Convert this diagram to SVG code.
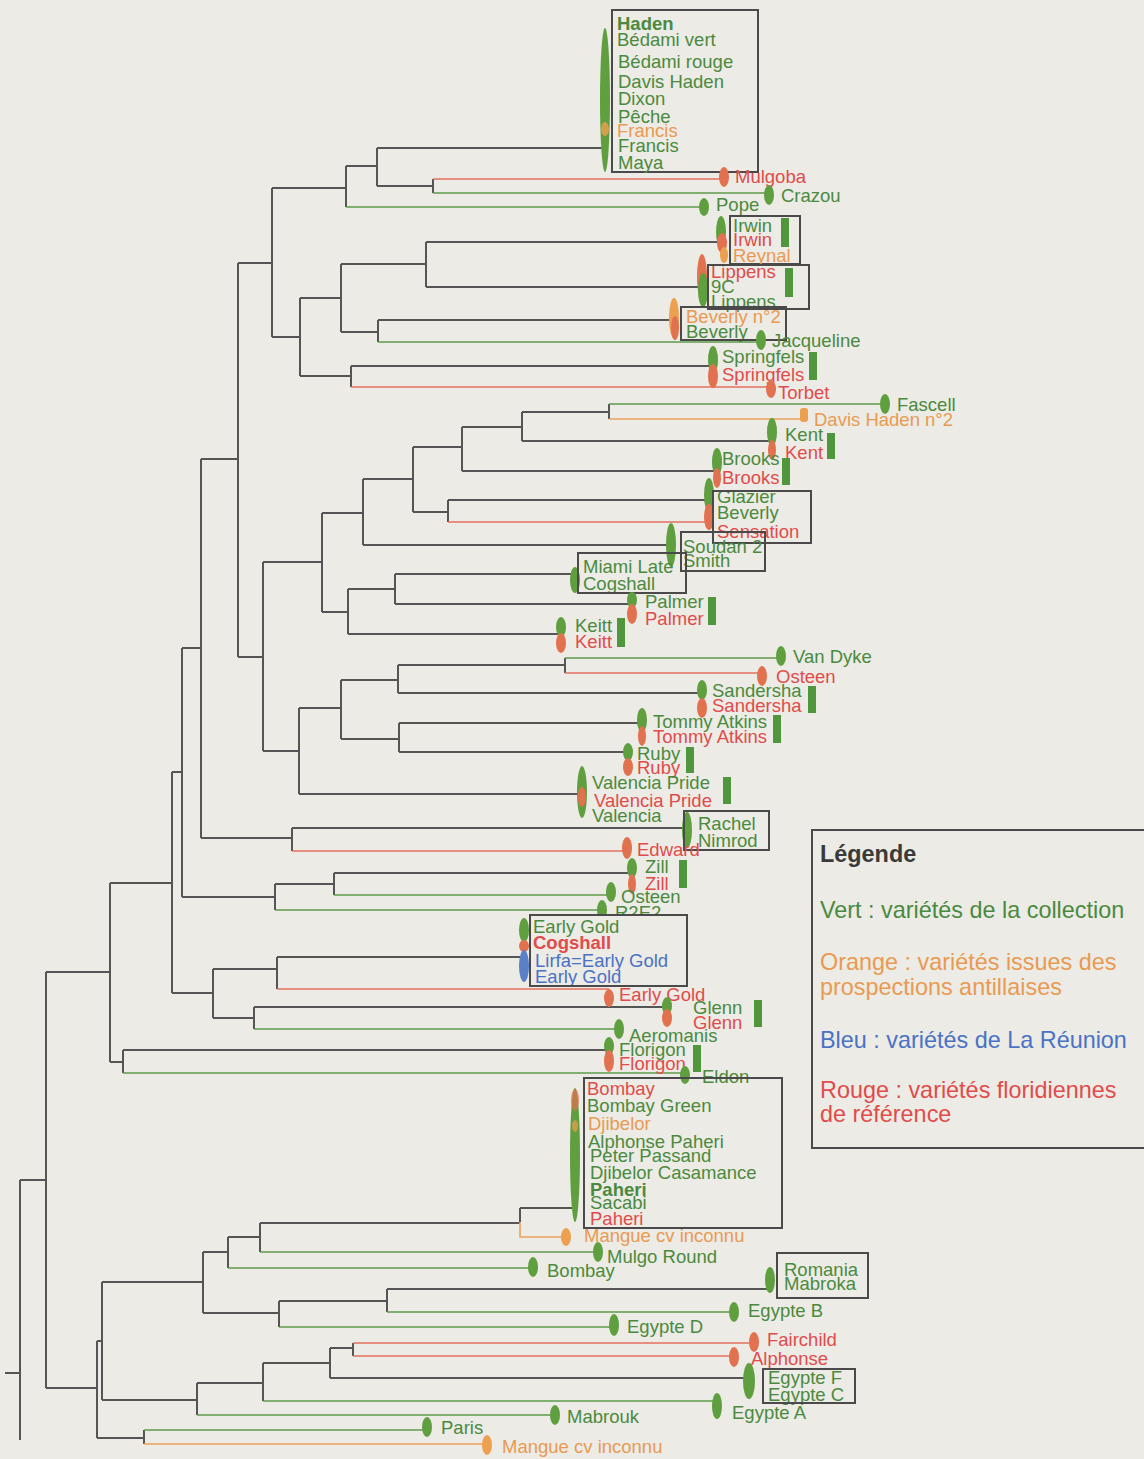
<svg xmlns="http://www.w3.org/2000/svg" width="1144" height="1459" viewBox="0 0 1144 1459">
<style>
.d{stroke:#555;stroke-width:2;fill:none}
.lg{stroke:#5e9c4c;stroke-width:1.6;fill:none}
.lr{stroke:#e3715f;stroke-width:1.6;fill:none}
.lo{stroke:#eba25a;stroke-width:1.6;fill:none}
text{font-family:"Liberation Sans",Arial,sans-serif;font-size:18.5px}
.tg{fill:#4b8a3e}.tr{fill:#e14b4b}.to{fill:#e99a52}.tb{fill:#4a72c4}
.b{font-weight:bold}
.eg{fill:#5f9f40}.er{fill:#e2714f}.eo{fill:#eca050}.eb{fill:#5a80c8}
.bar{fill:#4f963c}
.box{fill:none;stroke:#4a4a4a;stroke-width:2}
.leg{font-size:23.4px}
</style>
<rect width="1144" height="1459" fill="#ecebe5"/>
<g id="connectors">
<path class="d" d="M272 188V337M272 188H346M272 337H300M346 166V207M346 166H377M377 148V186M377 148H605M377 186H433M433 179V193M300 298V376M300 298H341M300 376H351M341 264V332M341 264H426M341 332H378M426 242V287M426 242H727M426 287H707M378 320V342M378 320H677M351 366V387M351 366H713M238 263V657M238 263H272M238 657H263M263 562V751M263 562H322M263 751H299M322 513V612M322 513H363M322 612H348M363 479V545M363 479H413M363 545H671M413 447V512M413 447H462M413 512H448M462 427V471M462 427H522M462 471H717M522 412V441M522 412H609M522 441H772M448 500V522M448 500H714M348 589V634M348 589H395M348 634H561M395 574V604M395 574H575M395 604H632M299 708V794M299 708H341M299 794H582M341 680V739M341 680H398M341 739H399M398 665V693M398 665H565M398 693H702M565 658V673M399 723V752M399 723H642M399 752H628M201 459V838M201 459H238M201 838H292M292 828V851M292 828H687M182 648V897M182 648H201M182 897H275M275 884V910M275 884H334M334 873V895M334 873H632M172 772V993M172 772H182M172 993H213M213 969V1018M213 969H277M213 1018H254M277 957V989M277 957H524M254 1007V1029M254 1007H667M110 883V1062M110 883H172M110 1062H123M123 1050V1073M123 1050H609M46 972V1388M46 972H110M46 1388H97M20 1180V1440M20 1180H46M5 1373H20M97 1341V1438M97 1341H102M97 1438H144M102 1282V1400M102 1282H203M102 1400H197M203 1252V1313M203 1252H228M203 1313H279M228 1237V1268M228 1237H260M260 1223V1252M260 1223H520M520 1208V1222M520 1208H575M279 1301V1327M279 1301H387M387 1289V1312M387 1289H770M197 1383V1415M197 1383H263M263 1363V1401M263 1363H330M330 1348V1378M330 1348H353M330 1378H749M353 1343V1356M144 1430V1444M609 404V419"/>
<path class="lg" d="M346 207H704M433 193H769M378 342H761M609 404H885M565 658H781M275 910H602M334 895H611M254 1029H619M123 1073H685M260 1252H598M228 1268H533M279 1327H614M387 1312H734M197 1415H555M263 1401H717M144 1430H427"/>
<path class="lr" d="M433 179H724M351 387H771M448 522H709M565 673H762M292 851H628M277 989H609M353 1343H754M353 1356H734"/>
<path class="lo" d="M609 419H804M520 1222V1237H566M144 1444H487"/>
</g>
<g id="haden">
<ellipse class="eg" cx="605" cy="100" rx="5" ry="72"/>
<ellipse class="eo" cx="605" cy="129" rx="4" ry="7" opacity="0.8"/>
<rect class="box" x="612" y="10" width="146" height="162"/>
<text class="tg b" x="617" y="30">Haden</text>
<text class="tg" x="617" y="46">Bédami vert</text>
<text class="tg" x="618" y="68">Bédami rouge</text>
<text class="tg" x="618" y="88">Davis Haden</text>
<text class="tg" x="618" y="105">Dixon</text>
<text class="tg" x="618" y="123">Pêche</text>
<text class="to" x="617" y="137">Francis</text>
<text class="tg" x="618" y="152">Francis</text>
<text class="tg" x="618" y="169">Maya</text>
</g>
<g id="mulgoba"><ellipse class="er" cx="724" cy="177" rx="5" ry="10"/><text class="tr" x="735" y="183">Mulgoba</text></g>
<g id="crazou"><ellipse class="eg" cx="769" cy="195" rx="5" ry="10"/><text class="tg" x="781" y="202">Crazou</text></g>
<g id="pope"><ellipse class="eg" cx="704" cy="207" rx="5" ry="9"/><text class="tg" x="716" y="211">Pope</text></g>
<g id="irwin">
<ellipse class="eg" cx="721" cy="232" rx="5" ry="16"/><ellipse class="er" cx="722" cy="243" rx="5" ry="10"/><ellipse class="eo" cx="724" cy="255" rx="4" ry="8"/>
<rect class="box" x="730" y="216" width="70" height="48"/><rect class="bar" x="781" y="218" width="8" height="29"/>
<text class="tg" x="733" y="232">Irwin</text><text class="tr" x="733" y="246">Irwin</text><text class="to" x="733" y="262">Reynal</text>
</g>
<g id="lippens">
<ellipse class="er" cx="702" cy="277" rx="5" ry="23"/><ellipse class="eg" cx="703" cy="290" rx="5" ry="17"/>
<text class="tr" x="711" y="278">Lippens</text><text class="tg" x="711" y="293">9C</text><text class="tg" x="711" y="308">Lippens</text>
<rect class="box" x="708" y="265" width="101" height="44"/><rect class="bar" x="785" y="268" width="8" height="29"/>
</g>
<g id="beverly">
<ellipse class="eo" cx="674" cy="318" rx="5" ry="20"/><ellipse class="er" cx="675" cy="328" rx="4" ry="12"/>
<text class="to" x="686" y="323">Beverly n°2</text><text class="tg" x="686" y="338">Beverly</text>
<rect class="box" x="681" y="307" width="105" height="33"/>
</g>
<g id="jacqueline"><ellipse class="eg" cx="761" cy="340" rx="5" ry="10"/><text class="tg" x="772" y="347">Jacqueline</text></g>
<g id="springfels">
<ellipse class="eg" cx="713" cy="360" rx="5" ry="14"/><ellipse class="er" cx="713" cy="376" rx="5" ry="12"/>
<text class="tg" x="722" y="363">Springfels</text><text class="tr" x="722" y="381">Springfels</text>
<rect class="bar" x="809" y="352" width="8" height="28"/>
</g>
<g id="torbet"><ellipse class="er" cx="771" cy="389" rx="5" ry="9"/><text class="tr" x="778" y="399">Torbet</text></g>
<g id="fascell"><ellipse class="eg" cx="885" cy="404" rx="5" ry="10"/><text class="tg" x="897" y="411">Fascell</text></g>
<g id="davishaden2"><rect class="eo" x="800" y="408" width="8" height="14" rx="3"/><text class="to" x="814" y="426">Davis Haden n°2</text></g>
<g id="kent">
<ellipse class="eg" cx="772" cy="432" rx="5" ry="14"/><ellipse class="er" cx="772" cy="450" rx="4" ry="10"/>
<text class="tg" x="785" y="441">Kent</text><text class="tr" x="785" y="459">Kent</text>
<rect class="bar" x="827" y="433" width="8" height="26"/>
</g>
<g id="brooks">
<ellipse class="eg" cx="717" cy="462" rx="5" ry="14"/><ellipse class="er" cx="717" cy="478" rx="4" ry="10"/>
<text class="tg" x="722" y="465">Brooks</text><text class="tr" x="722" y="484">Brooks</text>
<rect class="bar" x="782" y="458" width="8" height="27"/>
</g>
<g id="glazier">
<ellipse class="eg" cx="709" cy="495" rx="5" ry="17"/><ellipse class="er" cx="709" cy="517" rx="5" ry="13"/>
<text class="tg" x="717" y="503">Glazier</text><text class="tg" x="717" y="519">Beverly</text><text class="tr" x="717" y="538">Sensation</text>
<rect class="box" x="713" y="491" width="98" height="52"/>
</g>
<g id="soudan">
<ellipse class="eg" cx="671" cy="545" rx="5" ry="22"/>
<text class="tg" x="683" y="553">Soudan 2</text><text class="tg" x="683" y="567">Smith</text>
<rect class="box" x="681" y="532" width="84" height="39"/>
</g>
<g id="miamilate">
<ellipse class="eg" cx="575" cy="580" rx="5" ry="13"/>
<text class="tg" x="583" y="573">Miami Late</text><text class="tg" x="583" y="590">Cogshall</text>
<rect class="box" x="578" y="553" width="108" height="40"/>
</g>
<g id="palmer">
<ellipse class="eg" cx="632" cy="600" rx="5" ry="8"/><ellipse class="er" cx="632" cy="614" rx="5" ry="10"/>
<text class="tg" x="645" y="608">Palmer</text><text class="tr" x="645" y="625">Palmer</text>
<rect class="bar" x="708" y="597" width="8" height="28"/>
</g>
<g id="keitt">
<ellipse class="eg" cx="561" cy="627" rx="5" ry="10"/><ellipse class="er" cx="561" cy="643" rx="5" ry="10"/>
<text class="tg" x="575" y="632">Keitt</text><text class="tr" x="575" y="648">Keitt</text>
<rect class="bar" x="617" y="618" width="8" height="29"/>
</g>
<g id="vandyke"><ellipse class="eg" cx="781" cy="656" rx="5" ry="10"/><text class="tg" x="793" y="663">Van Dyke</text></g>
<g id="osteen-r"><ellipse class="er" cx="762" cy="676" rx="5" ry="10"/><text class="tr" x="776" y="683">Osteen</text></g>
<g id="sandersha">
<ellipse class="eg" cx="702" cy="690" rx="5" ry="10"/><ellipse class="er" cx="702" cy="708" rx="5" ry="10"/>
<text class="tg" x="712" y="697">Sandersha</text><text class="tr" x="712" y="712">Sandersha</text>
<rect class="bar" x="808" y="686" width="8" height="27"/>
</g>
<g id="tommy">
<ellipse class="eg" cx="642" cy="720" rx="5" ry="12"/><ellipse class="er" cx="642" cy="736" rx="4" ry="10"/>
<text class="tg" x="653" y="728">Tommy Atkins</text><text class="tr" x="653" y="743">Tommy Atkins</text>
<rect class="bar" x="773" y="715" width="8" height="28"/>
</g>
<g id="ruby">
<ellipse class="eg" cx="628" cy="752" rx="5" ry="9"/><ellipse class="er" cx="628" cy="767" rx="5" ry="9"/>
<text class="tg" x="637" y="760">Ruby</text><text class="tr" x="637" y="774">Ruby</text>
<rect class="bar" x="686" y="747" width="8" height="26"/>
</g>
<g id="valencia">
<ellipse class="eg" cx="582" cy="792" rx="5" ry="26"/><ellipse class="er" cx="582" cy="797" rx="4" ry="10"/>
<text class="tg" x="592" y="789">Valencia Pride</text><text class="tr" x="594" y="807">Valencia Pride</text><text class="tg" x="592" y="822">Valencia</text>
<rect class="bar" x="723" y="777" width="8" height="27"/>
</g>
<g id="rachel">
<ellipse class="eg" cx="687" cy="830" rx="5" ry="18"/>
<text class="tg" x="698" y="830">Rachel</text><text class="tg" x="698" y="847">Nimrod</text>
<rect class="box" x="684" y="811" width="85" height="39"/>
</g>
<g id="edward"><ellipse class="er" cx="627" cy="848" rx="5" ry="11"/><text class="tr" x="637" y="856">Edward</text></g>
<g id="zill">
<ellipse class="eg" cx="632" cy="868" rx="5" ry="10"/><ellipse class="er" cx="632" cy="884" rx="4" ry="10"/>
<text class="tg" x="645" y="873">Zill</text><text class="tr" x="645" y="890">Zill</text>
<rect class="bar" x="679" y="860" width="8" height="28"/>
</g>
<g id="osteen-g"><ellipse class="eg" cx="611" cy="892" rx="5" ry="10"/><text class="tg" x="621" y="903">Osteen</text></g>
<g id="r2e2"><ellipse class="eg" cx="602" cy="910" rx="5" ry="10"/><text class="tg" x="615" y="919">R2E2</text></g>
<g id="earlygold">
<ellipse class="eg" cx="524" cy="930" rx="5" ry="12"/><ellipse class="er" cx="524" cy="946" rx="5" ry="6"/><ellipse class="eb" cx="524" cy="966" rx="5" ry="16"/>
<rect fill="#ecebe5" x="531" y="916" width="155" height="69"/>
<text class="tg" x="533" y="933">Early Gold</text><text class="tr b" x="533" y="949">Cogshall</text><text class="tb" x="535" y="967">Lirfa=Early Gold</text><text class="tb" x="535" y="983">Early Gold</text>
<rect class="box" x="530" y="915" width="157" height="71"/>
</g>
<g id="earlygold-r"><ellipse class="er" cx="609" cy="998" rx="5" ry="9"/><text class="tr" x="619" y="1001">Early Gold</text></g>
<g id="glenn">
<ellipse class="eg" cx="667" cy="1006" rx="5" ry="9"/><ellipse class="er" cx="667" cy="1018" rx="5" ry="9"/>
<text class="tg" x="693" y="1014">Glenn</text><text class="tr" x="693" y="1029">Glenn</text>
<rect class="bar" x="754" y="1000" width="8" height="27"/>
</g>
<g id="aeromanis"><ellipse class="eg" cx="619" cy="1029" rx="5" ry="10"/><text class="tg" x="629" y="1042">Aeromanis</text></g>
<g id="florigon">
<ellipse class="eg" cx="609" cy="1046" rx="5" ry="9"/><ellipse class="er" cx="609" cy="1061" rx="5" ry="11"/>
<text class="tg" x="619" y="1056">Florigon</text><text class="tr" x="619" y="1070">Florigon</text>
<rect class="bar" x="693" y="1045" width="8" height="27"/>
</g>
<g id="eldon"><ellipse class="eg" cx="685" cy="1075" rx="5" ry="9"/><text class="tg" x="702" y="1083">Eldon</text></g>
<g id="bombay-cluster">
<ellipse class="eg" cx="575" cy="1155" rx="5" ry="67"/>
<ellipse class="er" cx="575" cy="1100" rx="4" ry="11" opacity="0.7"/><ellipse class="eo" cx="575" cy="1126" rx="3" ry="6" opacity="0.7"/>
<rect class="box" x="584" y="1078" width="198" height="150"/>
<text class="tr" x="587" y="1095">Bombay</text>
<text class="tg" x="587" y="1112">Bombay Green</text>
<text class="to" x="588" y="1130">Djibelor</text>
<text class="tg" x="588" y="1148">Alphonse Paheri</text>
<text class="tg" x="590" y="1162">Peter Passand</text>
<text class="tg" x="590" y="1179">Djibelor Casamance</text>
<text class="tg b" x="590" y="1196">Paheri</text>
<text class="tg" x="590" y="1209">Sacabi</text>
<text class="tr" x="590" y="1225">Paheri</text>
</g>
<g id="mangue1"><ellipse class="eo" cx="566" cy="1237" rx="5" ry="9"/><text class="to" x="584" y="1242">Mangue cv inconnu</text></g>
<g id="mulgoround"><ellipse class="eg" cx="598" cy="1252" rx="5" ry="10"/><text class="tg" x="607" y="1263">Mulgo Round</text></g>
<g id="bombay"><ellipse class="eg" cx="533" cy="1267" rx="5" ry="10"/><text class="tg" x="547" y="1277">Bombay</text></g>
<g id="romania">
<ellipse class="eg" cx="770" cy="1280" rx="5" ry="13"/>
<text class="tg" x="784" y="1276">Romania</text><text class="tg" x="784" y="1290">Mabroka</text>
<rect class="box" x="777" y="1253" width="91" height="45"/>
</g>
<g id="egypteb"><ellipse class="eg" cx="734" cy="1312" rx="5" ry="10"/><text class="tg" x="748" y="1317">Egypte B</text></g>
<g id="egypted"><ellipse class="eg" cx="614" cy="1325" rx="5" ry="11"/><text class="tg" x="627" y="1333">Egypte D</text></g>
<g id="fairchild"><ellipse class="er" cx="754" cy="1342" rx="5" ry="10"/><text class="tr" x="767" y="1346">Fairchild</text></g>
<g id="alphonse"><ellipse class="er" cx="734" cy="1357" rx="5" ry="10"/><text class="tr" x="751" y="1365">Alphonse</text></g>
<g id="egyptef">
<ellipse class="eg" cx="749" cy="1381" rx="6" ry="18"/>
<text class="tg" x="768" y="1384">Egypte F</text><text class="tg" x="768" y="1401">Egypte C</text>
<rect class="box" x="763" y="1369" width="92" height="34"/>
</g>
<g id="egyptea"><ellipse class="eg" cx="717" cy="1406" rx="5" ry="13"/><text class="tg" x="732" y="1419">Egypte A</text></g>
<g id="mabrouk"><ellipse class="eg" cx="555" cy="1415" rx="5" ry="10"/><text class="tg" x="567" y="1423">Mabrouk</text></g>
<g id="paris"><ellipse class="eg" cx="427" cy="1427" rx="5" ry="10"/><text class="tg" x="441" y="1434">Paris</text></g>
<g id="mangue2"><ellipse class="eo" cx="487" cy="1445" rx="5" ry="10"/><text class="to" x="502" y="1453">Mangue cv inconnu</text></g>
<g id="legend">
<rect class="box" x="812" y="830" width="340" height="318"/>
<text class="leg b" x="820" y="862" fill="#3a3a3a">Légende</text>
<text class="leg tg" x="820" y="918">Vert : variétés de la collection</text>
<text class="leg to" x="820" y="970">Orange : variétés issues des</text>
<text class="leg to" x="820" y="995">prospections antillaises</text>
<text class="leg tb" x="820" y="1048">Bleu : variétés de La Réunion</text>
<text class="leg tr" x="820" y="1098">Rouge : variétés floridiennes</text>
<text class="leg tr" x="820" y="1122">de référence</text>
</g>
</svg>
